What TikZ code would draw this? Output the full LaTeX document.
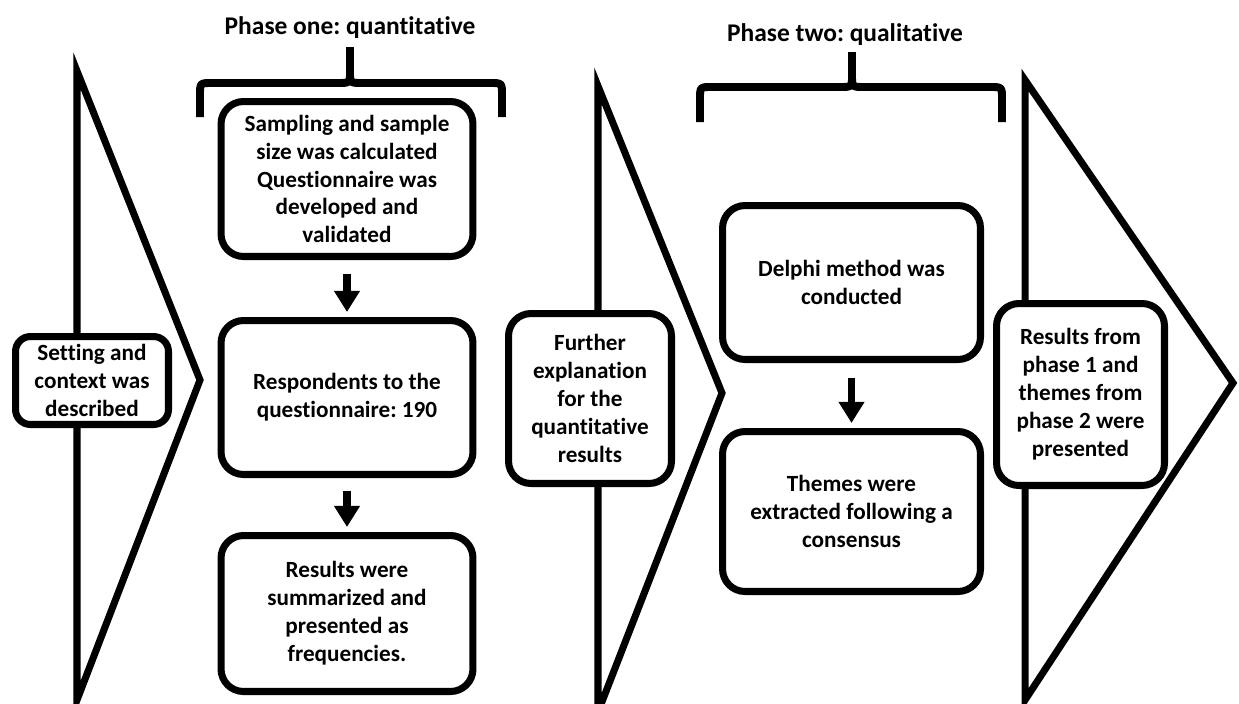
\documentclass[tikz,border=0pt]{standalone}
\usepackage{fontspec}
\setmainfont{Carlito}[Ligatures=NoCommon]
\usetikzlibrary{arrows.meta}
\frenchspacing

\begin{document}
\begin{tikzpicture}[x=0.02cm,y=-0.02cm,
  stage/.style={draw,line width=4pt,rounded corners=0.45cm,fill=white,align=center,inner sep=0pt,
    font=\bfseries\fontsize{13.2}{15.9}\selectfont},
  phase/.style={font=\bfseries\fontsize{14.5}{17}\selectfont},
  chevron/.style={line width=4pt,line join=miter},
  brace/.style={line width=4.5pt},
  flow/.style={line width=4.5pt,-{Triangle[width=14pt,length=12pt]},shorten >=0.1cm}]
\useasboundingbox (0,0) rectangle (1239,703);
\clip (0,0) rectangle (1239,703);
\draw[chevron] (77,71) -- (200,380) -- (77,700) -- cycle;
\draw[chevron] (598,86) -- (722,393) -- (598,712) -- cycle;
\draw[chevron] (1025,80) -- (1233,383) -- (1025,700) -- cycle;
\node[phase] (p1) at (350,28) {Phase one: quantitative};
\node[phase] (p2) at (845,35) {Phase two: qualitative};
\draw[brace] (200,117) -- (200,95) .. controls (200,83) .. (212,83) -- (338,83) .. controls (350,83) .. (350,71) -- (350,47);
\draw[brace] (502,117) -- (502,95) .. controls (502,83) .. (490,83) -- (362,83) .. controls (350,83) .. (350,71);
\draw[brace] (700,122) -- (700,99) .. controls (700,87) .. (712,87) -- (840,87) .. controls (852,87) .. (852,75) -- (852,52);
\draw[brace] (1002,122) -- (1002,99) .. controls (1002,87) .. (990,87) -- (864,87) .. controls (852,87) .. (852,75);
\node[stage,rounded corners=0.3cm,minimum width=3.06cm,minimum height=1.76cm] (setting) at (92,380.5)
  {Setting and\\context was\\described};
\node[stage,minimum width=5.04cm,minimum height=3.1cm] (sampling) at (347,179)
  {Sampling and sample\\size was calculated\\Questionnaire was\\developed and\\validated};
\node[stage,minimum width=5.04cm,minimum height=3.08cm] (respond) at (347,397.5)
  {Respondents to the\\questionnaire: 190};
\node[stage,minimum width=5.04cm,minimum height=3.12cm] (summary) at (347,613.5)
  {Results were\\summarized and\\presented as\\frequencies.};
\node[stage,minimum width=3.26cm,minimum height=3.4cm] (further) at (590,398.5)
  {Further\\explanation\\for the\\quantitative\\results};
\node[stage,minimum width=5.16cm,minimum height=3.08cm] (delphi) at (851.5,282.5)
  {Delphi method was\\conducted};
\node[stage,minimum width=5.16cm,minimum height=3.2cm] (themes) at (851.5,511.5)
  {Themes were\\extracted following a\\consensus};
\node[stage,minimum width=3.36cm,minimum height=3.64cm] (final) at (1080.5,394.5)
  {Results from\\phase 1 and\\themes from\\phase 2 were\\presented};
\draw[flow] ([yshift=-0.28cm]sampling.south) -- (respond.north);
\draw[flow] ([yshift=-0.25cm]respond.south) -- (summary.north);
\draw[flow] ([yshift=-0.3cm]delphi.south) -- (themes.north);
\end{tikzpicture}
\end{document}
